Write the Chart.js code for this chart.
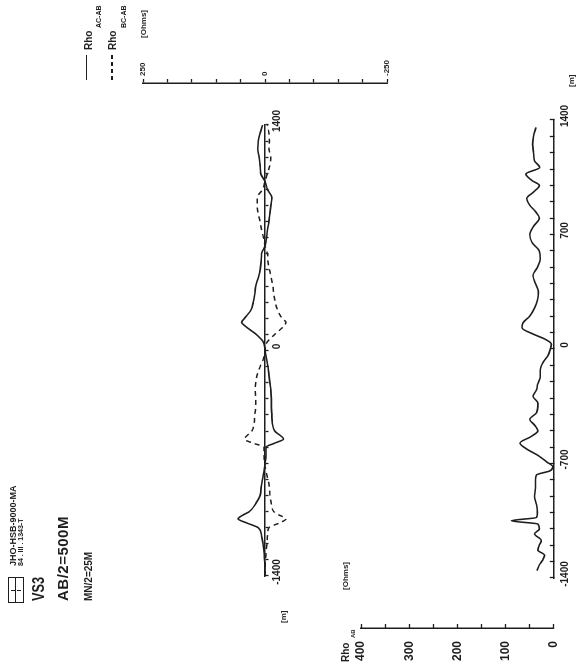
<!DOCTYPE html>
<html>
<head>
<meta charset="utf-8">
<script src="https://cdn.jsdelivr.net/npm/chart.js@4"></script>
<style>
  html, body { margin: 0; padding: 0; background: #fff; }
  body { width: 578px; height: 665px; overflow: hidden; position: relative; }
  /* the sheet is drawn landscape and turned a quarter turn, like the scan */
  #sheet {
    position: absolute; left: 0; top: 665px; width: 665px; height: 578px;
    transform-origin: 0 0; transform: rotate(-90deg);
    font-family: "Liberation Sans", Arial, sans-serif; color: #1e1e1e;
  }
  #sheet canvas { position: absolute; left: 0; top: 0; }
  .t { position: absolute; white-space: nowrap; font-weight: bold; line-height: 1; }
  .sub { position: absolute; white-space: nowrap; font-weight: bold; line-height: 1; }
  .solid { position: absolute; height: 0; border-top: 1.6px solid #1e1e1e; }
  .dash { position: absolute; height: 1.5px;
    background: repeating-linear-gradient(to right, #1e1e1e 0 4px, transparent 4px 7px); }
</style>
</head>
<body>
<div id="sheet">
  <canvas id="diffChart" width="665" height="578"></canvas>
  <canvas id="rhoChart" width="665" height="578"></canvas>

  <div style="position:absolute;left:62px;top:8px;width:24px;height:14px;border:1.5px solid #1e1e1e">
    <div style="position:absolute;left:0;right:0;top:6px;border-top:1.5px solid #1e1e1e"></div>
    <div style="position:absolute;left:11px;top:2px;height:4px;border-left:1.5px solid #1e1e1e"></div>
    <div style="position:absolute;left:11px;top:8px;height:4px;border-left:1.5px solid #1e1e1e"></div>
  </div>
  <div class="t" style="left:99px;top:9px;font-size:9px">JHO-HSB-9000-MA</div>
  <div class="t" style="left:99px;top:17px;font-size:7px">84 . III . 1343-T</div>
  <div class="t" style="left:64px;top:31px;font-size:16px;transform:scaleX(0.8);transform-origin:0 0">VS3</div>
  <div class="t" style="left:64px;top:55px;font-size:15px;letter-spacing:0.5px">AB/2=500M</div>
  <div class="t" style="left:64px;top:84px;font-size:10px">MN/2=25M</div>

  <div class="solid" style="left:585px;top:86px;width:25px"></div>
  <div class="t" style="left:615px;top:84px;font-size:10px">Rho</div>
  <div class="sub" style="left:637px;top:95px;font-size:7px">AC-AB</div>
  <div class="dash" style="left:585px;top:111px;width:25px"></div>
  <div class="t" style="left:615px;top:108px;font-size:10px">Rho</div>
  <div class="sub" style="left:637px;top:120px;font-size:7px">BC-AB</div>

  <div class="t" style="left:627px;top:140px;font-size:8px">[Ohms]</div>
  <div class="t" style="left:42px;top:280px;font-size:8px">[m]</div>
  <div class="t" style="left:578px;top:568px;font-size:8px">[m]</div>

  <div class="t" style="left:3px;top:341px;font-size:10px">Rho</div>
  <div class="sub" style="left:27px;top:350px;font-size:6px">AB</div>
  <div class="t" style="left:75px;top:342px;font-size:8px">[Ohms]</div>
</div>

<script>
// upper panel: apparent resistivity differences along the profile
const topDist = [-1400, -1350, -1300, -1250, -1200, -1150, -1100, -1070, -1045, -1020,
  -1000, -950, -900, -850, -800, -750, -700, -650, -600, -575,
  -550, -500, -450, -400, -350, -300, -250, -200, -150, -100,
  -50, 0, 50, 100, 150, 175, 200, 250, 300, 350,
  400, 450, 500, 550, 600, 650, 700, 750, 800, 850,
  900, 950, 1000, 1050, 1100, 1150, 1200, 1250, 1300, 1350, 1400];
const rhoAcAb = [0, 0, 1, 2, 4, 7, 14, 38, 55, 44,
  32, 19, 10, 8, 5, 2, 0, -2, -2, -20,
  -38, -20, -15, -14, -13, -13, -12, -10, -8, -6,
  -3, 0, 3, 18, 40, 48, 42, 29, 24, 21,
  19, 14, 10, 8, 7, 0, -3, -5, -8, -10,
  -12, -14, -5, 0, 9, 10, 12, 15, 14, 10, 5];
const rhoBcAb = [0, 0, -1, -2, -4, -5, -8, -30, -43, -28,
  -18, -13, -10, -9, -6, -2, 1, 2, 2, 25,
  42, 27, 22, 21, 19, 19, 20, 19, 16, 10,
  3, 0, -4, -20, -38, -43, -35, -26, -21, -18,
  -16, -13, -9, -6, -5, 0, 3, 7, 10, 14,
  16, 16, 5, 0, -5, -10, -12, -8, -9, -8, -5];

// lower panel: Rho AB
const abDist = [-1355, -1320, -1290, -1260, -1230, -1200, -1170, -1130, -1100, -1070,
  -1050, -1030, -1000, -950, -900, -850, -800, -770, -745, -720,
  -690, -650, -610, -575, -535, -500, -465, -430, -390, -330,
  -290, -250, -210, -170, -130, -80, -40, 0, 30, 60,
  90, 130, 160, 200, 250, 300, 350, 400, 450, 500,
  550, 600, 650, 700, 750, 800, 840, 880, 920, 960,
  1000, 1030, 1070, 1110, 1150, 1200, 1250, 1300, 1355];
const rhoAb = [35, 30, 23, 19, 33, 30, 26, 40, 30, 33,
  88, 36, 34, 36, 40, 38, 38, 36, 8, 2,
  15, 33, 57, 70, 47, 33, 40, 50, 36, 33,
  43, 36, 33, 28, 28, 22, 12, 7, 5, 18,
  42, 66, 64, 50, 40, 34, 32, 38, 43, 34,
  28, 30, 45, 50, 42, 30, 38, 50, 56, 42,
  30, 45, 58, 29, 40, 42, 44, 42, 37];

const topDistLabels = [-1400, 0, 1400];
const abDistLabels = [-1400, -700, 0, 700, 1400];
const topValueLabels = [-250, 0, 250];
const rhoLabels = [0, 100, 200, 300, 400];

const ink = "#1e1e1e";

function pts(xs, ys) {
  return xs.map((x, i) => ({ x, y: ys[i] }));
}

// axes sit apart from the plotted range, so set their boxes after layout
function placeAxis(id, box) {
  return {
    id: "place-" + id,
    afterLayout(chart) {
      Object.assign(chart.scales[id], box);
    },
  };
}

const base = {
  responsive: false,
  animation: false,
  events: [],
  plugins: { legend: { display: false }, tooltip: { enabled: false } },
};

new Chart(document.getElementById("diffChart"), {
  type: "line",
  data: {
    datasets: [
      {
        label: "Rho AC-AB",
        data: pts(topDist, rhoAcAb),
        borderColor: ink,
        borderWidth: 1.6,
        pointRadius: 0,
        cubicInterpolationMode: "monotone",
      },
      {
        label: "Rho BC-AB",
        data: pts(topDist, rhoBcAb),
        borderColor: ink,
        borderWidth: 1.5,
        borderDash: [5, 4],
        pointRadius: 0,
        cubicInterpolationMode: "monotone",
      },
    ],
  },
  options: {
    ...base,
    layout: { padding: { left: 89, right: 125, top: 143, bottom: 191 } },
    scales: {
      x: {
        type: "linear",
        min: -1400,
        max: 1400,
        position: { y: 0 },
        afterFit: (s) => { s.height = 0; },
        border: { color: ink, width: 1.5 },
        grid: { drawOnChartArea: false, tickLength: 3, tickColor: ink, tickWidth: 1.3 },
        ticks: {
          stepSize: 100,
          autoSkip: false,
          maxRotation: 0,
          minRotation: 0,
          padding: 3,
          labelOffset: 4,
          color: ink,
          font: { family: "Liberation Sans", size: 10, weight: "bold" },
          callback: (v) => (topDistLabels.includes(v) ? String(v) : ""),
        },
      },
      y: {
        type: "linear",
        min: -250,
        max: 250,
        position: "right",
        afterFit: (s) => { s.width = 0; },
        border: { color: ink, width: 1.5 },
        grid: { drawOnChartArea: false, tickLength: 4, tickColor: ink, tickWidth: 1.3 },
        ticks: {
          stepSize: 50,
          autoSkip: false,
          padding: 3,
          color: ink,
          font: { family: "Liberation Sans", size: 8, weight: "bold" },
          callback: (v) => (topValueLabels.includes(v) ? String(v) : ""),
        },
      },
    },
  },
  plugins: [placeAxis("y", { left: 582, right: 665 })],
});

new Chart(document.getElementById("rhoChart"), {
  type: "line",
  data: {
    datasets: [
      {
        label: "Rho AB",
        data: pts(abDist, rhoAb),
        borderColor: ink,
        borderWidth: 1.6,
        pointRadius: 0,
        cubicInterpolationMode: "monotone",
      },
    ],
  },
  options: {
    ...base,
    layout: { padding: { left: 87, right: 120, top: 361, bottom: 22 } },
    scales: {
      x: {
        type: "linear",
        min: -1400,
        max: 1400,
        position: "bottom",
        afterFit: (s) => { s.height = 0; },
        border: { color: ink, width: 1.5 },
        grid: { drawOnChartArea: false, tickLength: -4, tickColor: ink, tickWidth: 1.3 },
        ticks: {
          stepSize: 100,
          autoSkip: false,
          maxRotation: 0,
          minRotation: 0,
          padding: 9,
          labelOffset: 4,
          color: ink,
          font: { family: "Liberation Sans", size: 10, weight: "bold" },
          callback: (v) => (abDistLabels.includes(v) ? String(v) : ""),
        },
      },
      y: {
        type: "linear",
        min: 0,
        max: 400,
        position: "left",
        afterFit: (s) => { s.width = 0; },
        border: { color: ink, width: 1.5 },
        grid: { drawOnChartArea: false, tickLength: -4, tickColor: ink, tickWidth: 1.3 },
        ticks: {
          stepSize: 50,
          autoSkip: false,
          padding: 17,
          color: ink,
          font: { family: "Liberation Sans", size: 12, weight: "bold" },
          callback: (v) => (rhoLabels.includes(v) ? String(v) : ""),
        },
      },
    },
  },
  plugins: [placeAxis("y", { left: 0, right: 37 }), placeAxis("x", { bottom: 578 })],
});
</script>
</body>
</html>
